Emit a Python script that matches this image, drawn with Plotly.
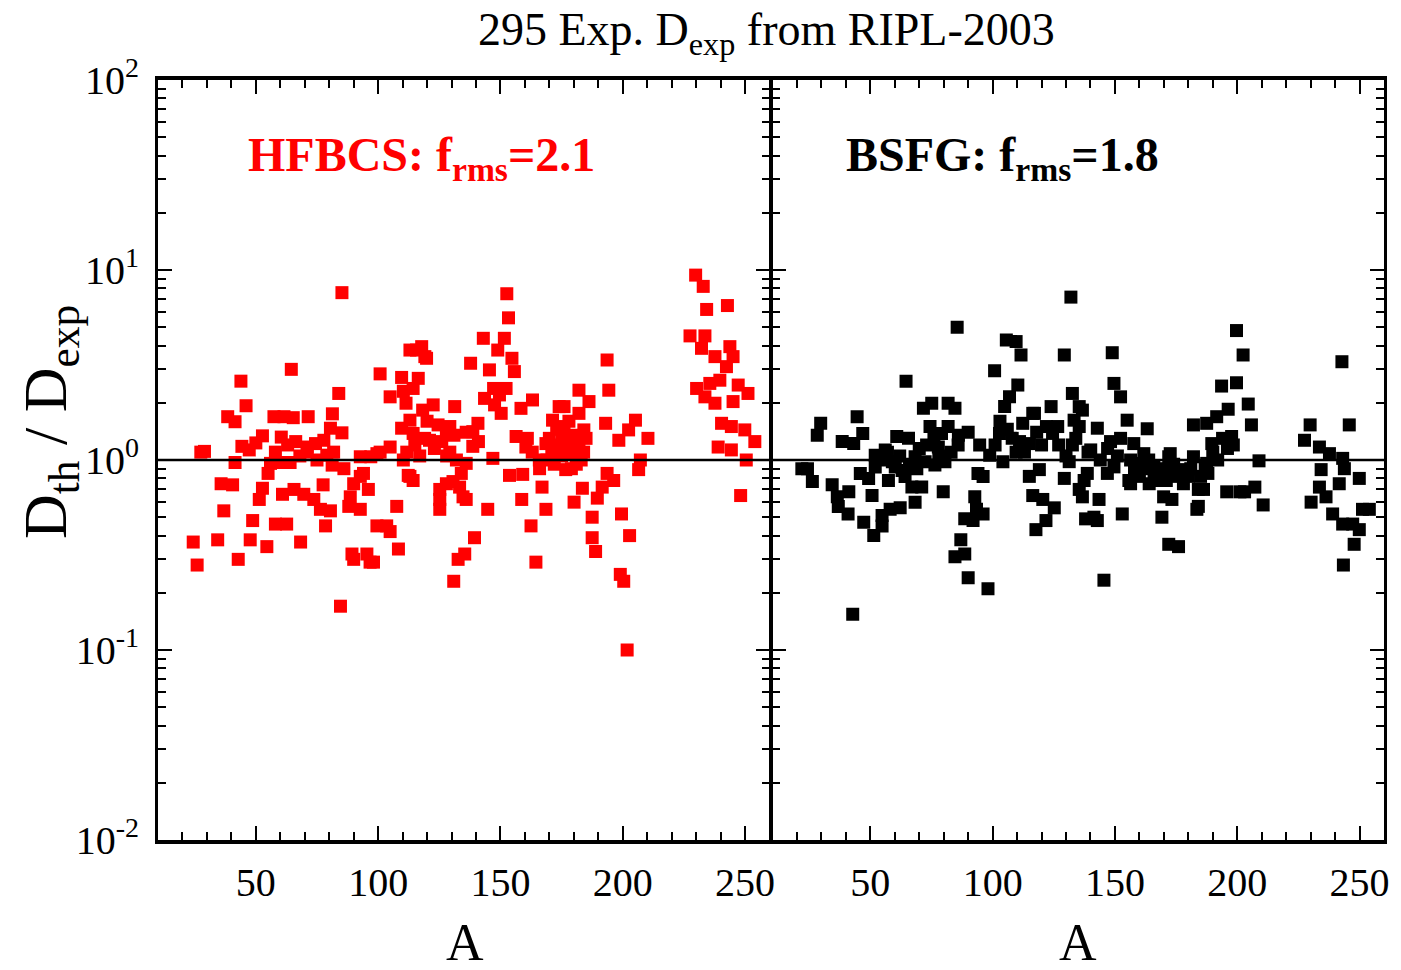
import plotly.graph_objects as go

# HFBCS: mass number A and ratio D_th/D_exp
hf_A = [24.4,26,27.5,29,34.4,35.8,36.9,38.5,40.5,41.5,41.5,42.8,43.9,44.3,46,47.3,47.7,48.7,50,51.4,
        52.7,52.7,54.5,55,56,57.4,58,60,60.4,60.9,61.5,62.6,64,64.5,65.3,65.6,66.3,68.3,69.6,71,
        71,71.4,73.7,74.4,76.4,77.5,77.8,78.5,79,80.5,80.5,81.2,81.3,81.8,83.9,84.6,85.2,85.2,88,88.6,
        89.3,90,92.7,92.7,92.7,94,95.4,96,96.7,97,98.1,99.5,99.5,100.8,100.8,103.5,104.9,104.9,104.9,107.6,
        108.3,109.6,109.6,110.3,110.3,111.4,111.7,112.3,113,113,113,114.3,114.3,114.3,115.7,116.4,117.8,118.2,
        119.1,119.8,121,122.5,124.5,125.2,125.2,125.2,127.9,127.9,129.3,129.3,130.6,130.9,131.3,132,132.7,133.3,
        134.7,135.4,136,136,136,137.8,138.7,138.7,139.4,140.8,143,143.5,144.8,145.5,146.9,147.2,147.6,148.9,
        149.6,150.3,151.6,152.3,152.6,153.3,153.7,154.7,155.7,156.4,158.4,158.7,159.1,160.4,162.5,163.1,164.5,165.9,
        167,168.6,168.6,170,171,171.3,172,173,174,174,175,175.3,176,176,176.7,177,178,178,179,180,
        180.1,181,182.1,182.1,182.1,183,183.5,184.1,185,186.2,187.5,187.5,188.9,189.6,191.6,193,193.6,193.6,194.3,196.3,
        198.4,199,199.5,200.4,201.8,202.4,202.8,205.2,206.5,207.2,210.3,
        227.5,229.8,230.2,232.2,232.9,233.6,233.6,234.3,235.6,237.7,237.7,239,239.7,240.4,242.4,242.8,243.8,244.4,244.4,245.1,
        245.1,247.2,248.2,249.9,250.5,251.2,254,
        115,117,119,120,123,126,128,131,134,141,161,163,166,169,172,179,181,184,58,63,
        68,75,86,90]
hf_ratio = [0.37,0.28,1.10,1.11,0.38,0.75,0.54,1.69,0.74,1.59,0.97,0.30,2.6,1.18,1.93,1.13,0.38,0.48,1.23,0.62,
            1.34,0.71,0.35,0.85,0.96,1.69,0.46,0.97,1.32,0.66,1.69,0.46,0.97,3.0,1.67,0.70,1.25,0.37,0.66,1.17,
            1.10,1.69,0.62,1.22,0.55,0.74,1.27,0.45,1.06,1.47,0.54,0.94,1.75,1.10,2.24,0.17,7.6,1.39,0.57,0.64,
            0.32,0.30,1.04,0.82,0.55,0.85,0.32,0.70,0.29,1.04,0.29,0.45,1.08,2.84,1.10,0.45,1.17,0.42,2.15,0.57,
            0.34,2.72,1.47,2.3,1.0,1.99,1.10,0.83,3.79,1.62,0.82,2.38,1.38,0.78,3.79,2.69,3.95,1.83,
            3.5,3.43,1.27,1.95,1.53,0.62,0.55,0.70,1.38,0.75,1.10,1.50,0.77,0.23,1.91,1.0,0.30,0.72,
            0.64,0.32,0.96,0.62,1.40,3.23,1.41,1.18,0.39,1.56,4.37,2.11,0.55,2.98,1.02,2.38,1.95,3.79,
            2.2,1.76,4.37,2.38,7.5,5.6,0.83,3.43,2.92,1.33,1.87,0.62,0.84,1.17,0.45,2.07,0.29,1.0,
            0.72,1.22,0.55,1.30,1.10,1.62,0.95,1.45,1.91,1.20,1.05,1.27,1.91,1.50,0.89,1.30,1.08,1.60,1.25,1.15,
            0.60,0.95,2.33,1.76,1.17,1.0,0.71,1.44,1.30,2.03,0.50,0.39,0.33,0.63,0.72,1.56,3.36,0.85,2.33,0.78,
            1.27,0.25,0.52,0.23,0.10,1.44,0.40,1.62,0.89,1.0,1.30,
            4.5,9.4,2.38,3.87,8.2,4.5,2.15,6.2,2.53,3.5,1.99,1.17,2.63,1.56,3.1,6.5,3.95,1.50,1.13,3.5,
            2.03,2.48,0.65,1.44,1.0,2.24,1.25,
            1.2,1.05,1.3,1.6,1.15,1.25,1.05,1.35,0.85,1.25,1.3,1.1,0.9,1.0,1.15,0.9,1.35,1.1,1.1,1.2,
            1.05,1.0,0.9,0.75]

# BSFG: mass number A and ratio D_th/D_exp
bs_A = [22,24.3,26.3,28.3,29.7,34.4,36.5,36.9,38.5,40.9,41.2,42.8,43.2,44.6,45.9,46.9,47.3,49.3,50.7,51.4,
        52,52,54.8,54.8,56.1,57.4,58.1,60.2,60.8,62.2,64.2,64.6,65.6,67,68.3,68.3,71,71.7,72.4,74.4,
        75.1,76.4,77.8,79.1,79.8,80.5,81.8,81.8,84.6,84.6,85.5,85.9,87,88.6,88.6,90,92,92.7,93.4,94,
        94.7,96.1,96.1,98.1,98.8,100.8,102.8,104.2,104.9,105.6,106.9,109.6,109.6,110.3,111.6,112.3,115,115,116.4,116.4,
        117.1,117.7,119.1,120.5,121.8,123.9,124.5,125.2,126.6,129.3,129.3,131.3,132,132.6,132.6,133.3,135.4,135.4,135.4,136.7,
        136.7,137.4,138,138.7,140.1,141.4,142.8,142.8,143.5,145.5,146.9,148.2,148.9,149.6,149.6,152.3,152.3,153,155,155.7,
        156.4,156.4,157.7,159.8,161.8,163.2,163.8,165.9,167.9,168.6,169.2,169.9,172,172,172.6,173.3,176,176,179.4,180,
        182.1,182.1,183.5,184.1,184.1,186.2,186.9,187.5,187.5,189.6,191.6,193.6,195.7,196.3,197.7,198.4,199.7,199.7,201.1,202.4,
        203,204.5,205.8,207.2,208.9,210.6,
        227.5,229.8,230.2,233.6,233.6,234.3,236.3,237.7,239,241.7,242.8,243.1,243.1,243.4,243.8,245.8,247.2,247.8,249.9,249.9,
        251.2,254,
        55,57,59,62,63,66,69,70,73,76,78,83,86,90,101,103,106,108,111,113,
        118,120,122,127,130,134,139,144,147,151,158,160,162,164,166,170,171,174,175,178,
        181,185,188,190,192,194,196]
bs_ratio = [0.90,0.90,0.77,1.35,1.56,0.74,0.64,0.57,1.25,0.52,0.68,0.154,1.22,1.69,0.85,1.38,0.47,0.80,0.65,0.40,
            1.06,0.92,0.45,0.51,1.13,0.78,0.55,0.92,1.33,0.56,0.82,2.6,1.30,0.72,1.04,0.60,0.72,1.87,0.98,1.50,
            1.99,0.94,1.17,1.38,0.68,0.98,1.99,1.50,1.87,0.31,5.0,1.2,0.38,0.49,0.32,0.24,0.48,0.64,0.55,0.85,
            1.2,0.82,0.52,0.21,1.06,2.95,1.38,0.98,1.91,4.28,2.15,4.2,1.10,2.48,3.57,1.56,1.22,0.82,1.76,0.65,
            1.76,0.43,0.89,0.62,0.48,1.91,1.38,0.56,1.50,3.57,0.80,0.98,7.2,2.24,1.2,1.62,1.91,1.50,0.70,1.83,
            0.64,0.78,0.49,0.85,1.13,0.50,1.47,0.48,0.62,0.233,0.85,1.25,3.67,2.53,0.92,2.15,1.30,0.52,1.62,0.78,
            1.0,0.75,1.22,0.96,1.08,1.46,1.0,0.92,0.85,0.78,0.50,0.64,1.04,0.36,1.08,0.62,0.89,0.35,0.85,0.82,
            1.53,1.04,0.55,0.70,0.57,0.70,0.92,1.56,0.96,1.22,1.69,2.45,0.68,1.85,1.33,1.2,4.8,2.55,0.68,3.57,
            0.68,1.97,1.53,0.72,0.99,0.58,
            1.27,1.53,0.60,1.17,0.72,0.89,0.64,1.08,0.52,0.75,3.29,1.02,0.46,0.28,0.90,1.53,0.46,0.36,0.80,0.43,
            0.55,0.55,
            1.0,1.1,0.98,1.05,0.88,0.95,0.9,1.15,1.2,1.3,1.05,1.1,1.35,1.4,1.2,1.6,1.45,1.3,1.25,1.1,
            1.4,1.2,1.5,1.2,1.05,1.3,1.1,1.0,1.15,1.05,0.88,0.82,0.9,0.75,0.82,0.9,0.78,0.95,0.82,0.75,
            0.9,0.82,0.85,1.1,1.0,1.3,1.15]

x_range = [10, 260]
y_tickvals = [0.01, 0.1, 1, 10, 100]
y_ticktext = ["10<sup>-2</sup>", "10<sup>-1</sup>", "10<sup>0</sup>", "10<sup>1</sup>", "10<sup>2</sup>"]
y_minor = [k * 10.0 ** e for e in range(-2, 2) for k in range(2, 10)]

SERIF = "Liberation Serif"
LW = 3
half = (LW / 2) / 1230.0

fig = go.Figure()
fig.add_trace(go.Scatter(x=hf_A, y=hf_ratio, mode="markers", xaxis="x", yaxis="y",
                         marker=dict(symbol="square", size=13, color="#ff0000", line=dict(width=0)),
                         showlegend=False))
fig.add_trace(go.Scatter(x=bs_A, y=bs_ratio, mode="markers", xaxis="x2", yaxis="y2",
                         marker=dict(symbol="square", size=13, color="#000000", line=dict(width=0)),
                         showlegend=False))

xcommon = dict(range=x_range, tickmode="linear", tick0=0, dtick=50, ticks="inside", ticklen=14,
               tickwidth=2, tickcolor="black", showline=True, linewidth=4, linecolor="black",
               mirror="ticks", showgrid=False, zeroline=False,
               tickfont=dict(family=SERIF, size=40, color="black"), ticklabelstandoff=4,
               minor=dict(dtick=10, tick0=0, ticks="inside", ticklen=8, tickwidth=2,
                          tickcolor="black", showgrid=False))
ycommon = dict(type="log", range=[-2, 2], tickmode="array", tickvals=y_tickvals, ticktext=y_ticktext,
               ticks="inside", ticklen=14, tickwidth=2, tickcolor="black", showline=True, linewidth=LW,
               linecolor="black", mirror="ticks", showgrid=False, zeroline=False,
               tickfont=dict(family=SERIF, size=40, color="black"), ticklabelstandoff=8,
               minor=dict(tickmode="array", tickvals=y_minor, ticks="inside", ticklen=8, tickwidth=2,
                          tickcolor="black", showgrid=False))

fig.update_layout(
    width=1401, height=970,
    margin=dict(l=158, r=13, t=80, b=130),
    paper_bgcolor="white", plot_bgcolor="white",
    xaxis=dict(domain=[0, 0.5 - half], anchor="y", **xcommon),
    xaxis2=dict(domain=[0.5 + half, 1], anchor="y2", **xcommon),
    yaxis=dict(domain=[0, 1], anchor="x", showticklabels=True, **ycommon),
    yaxis2=dict(domain=[0, 1], anchor="x2", showticklabels=False, **ycommon),
    shapes=[
        dict(type="line", xref="x domain", yref="y", x0=0, x1=1, y0=1, y1=1,
             line=dict(color="black", width=2.5)),
        dict(type="line", xref="x2 domain", yref="y2", x0=0, x1=1, y0=1, y1=1,
             line=dict(color="black", width=2.5)),
    ],
    annotations=[
        dict(text="295 Exp. D<sub>exp</sub> from RIPL-2003", xref="paper", yref="paper",
             x=0.496, y=1.062, xanchor="center", yanchor="middle", showarrow=False,
             font=dict(family=SERIF, size=46, color="black")),
        dict(text="<b>HFBCS: f<sub>rms</sub>=2.1</b>", xref="paper", yref="paper",
             x=0.2146, y=0.897, xanchor="center", yanchor="middle", showarrow=False,
             font=dict(family=SERIF, size=48, color="#ff0000")),
        dict(text="<b>BSFG: f<sub>rms</sub>=1.8</b>", xref="paper", yref="paper",
             x=0.6886, y=0.897, xanchor="center", yanchor="middle", showarrow=False,
             font=dict(family=SERIF, size=48, color="black")),
        dict(text="A", xref="paper", yref="paper", x=0.25, y=-0.135, xanchor="center",
             yanchor="middle", showarrow=False, font=dict(family=SERIF, size=52, color="black")),
        dict(text="A", xref="paper", yref="paper", x=0.75, y=-0.135, xanchor="center",
             yanchor="middle", showarrow=False, font=dict(family=SERIF, size=52, color="black")),
        dict(text="D<sub>th</sub> / D<sub>exp</sub>", xref="paper", yref="paper",
             x=-0.088, y=0.55, xanchor="center", yanchor="middle", textangle=-90, showarrow=False,
             font=dict(family=SERIF, size=62, color="black")),
    ],
)

fig.write_html("out.html")
